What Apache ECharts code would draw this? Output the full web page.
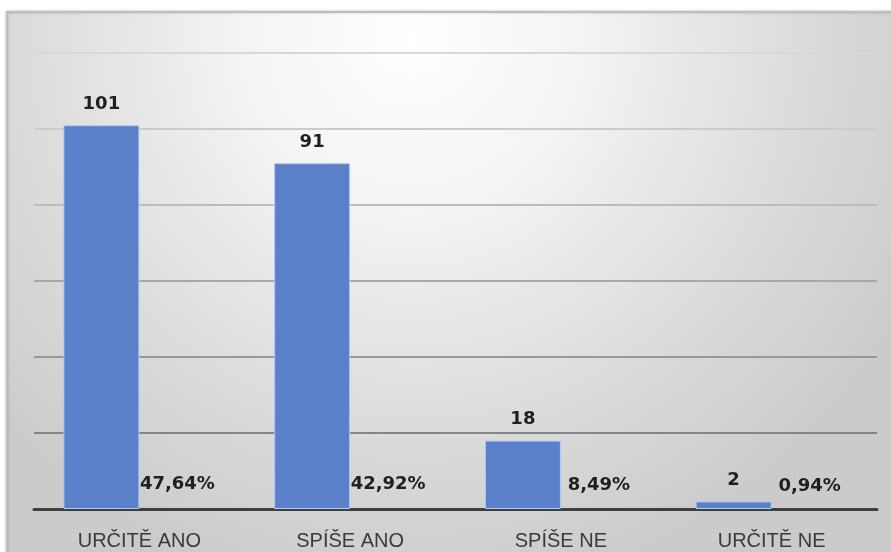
<!DOCTYPE html>
<html>
<head>
<meta charset="utf-8">
<script src="https://cdn.jsdelivr.net/npm/echarts@6/dist/echarts.min.js"></script>
<style>
html,body{margin:0;padding:0;background:#fff;}
#c{width:891px;height:552px;}
</style>
</head>
<body>
<div id="c"></div>
<script>
var categories = ['URČITĚ ANO', 'SPÍŠE ANO', 'SPÍŠE NE', 'URČITĚ NE'];
var counts = [101, 91, 18, 2];
var shares = [0.4764, 0.4292, 0.0849, 0.0094];
var yMax = 120;
var yStep = 20;

var chart = echarts.init(document.getElementById('c'), null, {renderer: 'canvas'});
var option = {
  animation: false,
  graphic: [{
    type: 'rect',
    z: -10,
    silent: true,
    shape: {x: 7, y: 12, width: 900, height: 560},
    style: {
      fill: new echarts.graphic.RadialGradient(0.45, 0.05, 1.0, [
        {offset: 0, color: '#ffffff'},
        {offset: 0.3, color: '#f4f4f4'},
        {offset: 0.65, color: '#dedede'},
        {offset: 1, color: '#cbcbcb'}
      ]),
      stroke: '#bdbdbd',
      lineWidth: 2,
      shadowBlur: 3,
      shadowColor: 'rgba(0,0,0,0.2)'
    }
  }],
  grid: {left: 34, right: 14, top: 53, bottom: 43, containLabel: false},
  xAxis: {
    type: 'category',
    data: categories,
    axisTick: {show: false},
    axisLine: {lineStyle: {color: '#3f3f3f', width: 3}},
    axisLabel: {
      margin: 22,
      color: '#3a3a3a',
      fontSize: 20,
      fontFamily: 'Liberation Sans, Arial, sans-serif'
    }
  },
  yAxis: {
    type: 'value',
    min: 0,
    max: yMax,
    interval: yStep,
    axisLabel: {show: false},
    axisLine: {show: false},
    axisTick: {show: false},
    splitLine: {
      lineStyle: {
        width: 2,
        color: ['#4a4a4a', '#858585', '#989898', '#a8a8a8', '#bcbcbc', '#cbcbcb', '#d8d8d8']
      }
    }
  },
  series: [{
    type: 'bar',
    data: counts,
    barWidth: 76,
    barGap: '0%',
    itemStyle: {color: '#5a80c9', borderColor: '#b2cbee', borderWidth: 1},
    label: {
      show: true,
      position: 'top',
      distance: 12,
      color: '#1f1f1f',
      fontSize: 18,
      fontWeight: 'bold',
      fontFamily: 'DejaVu Sans, sans-serif'
    }
  }, {
    type: 'bar',
    data: shares,
    barWidth: 76,
    barGap: '0%',
    itemStyle: {color: 'rgba(0,0,0,0)'},
    label: {
      show: true,
      position: 'top',
      distance: 14,
      color: '#1f1f1f',
      fontSize: 18,
      fontWeight: 'bold',
      fontFamily: 'DejaVu Sans, sans-serif',
      formatter: function (p) { return (p.value * 100).toFixed(2).replace('.', ',') + '%'; }
    }
  }]
};
chart.setOption(option);
</script>
</body>
</html>
